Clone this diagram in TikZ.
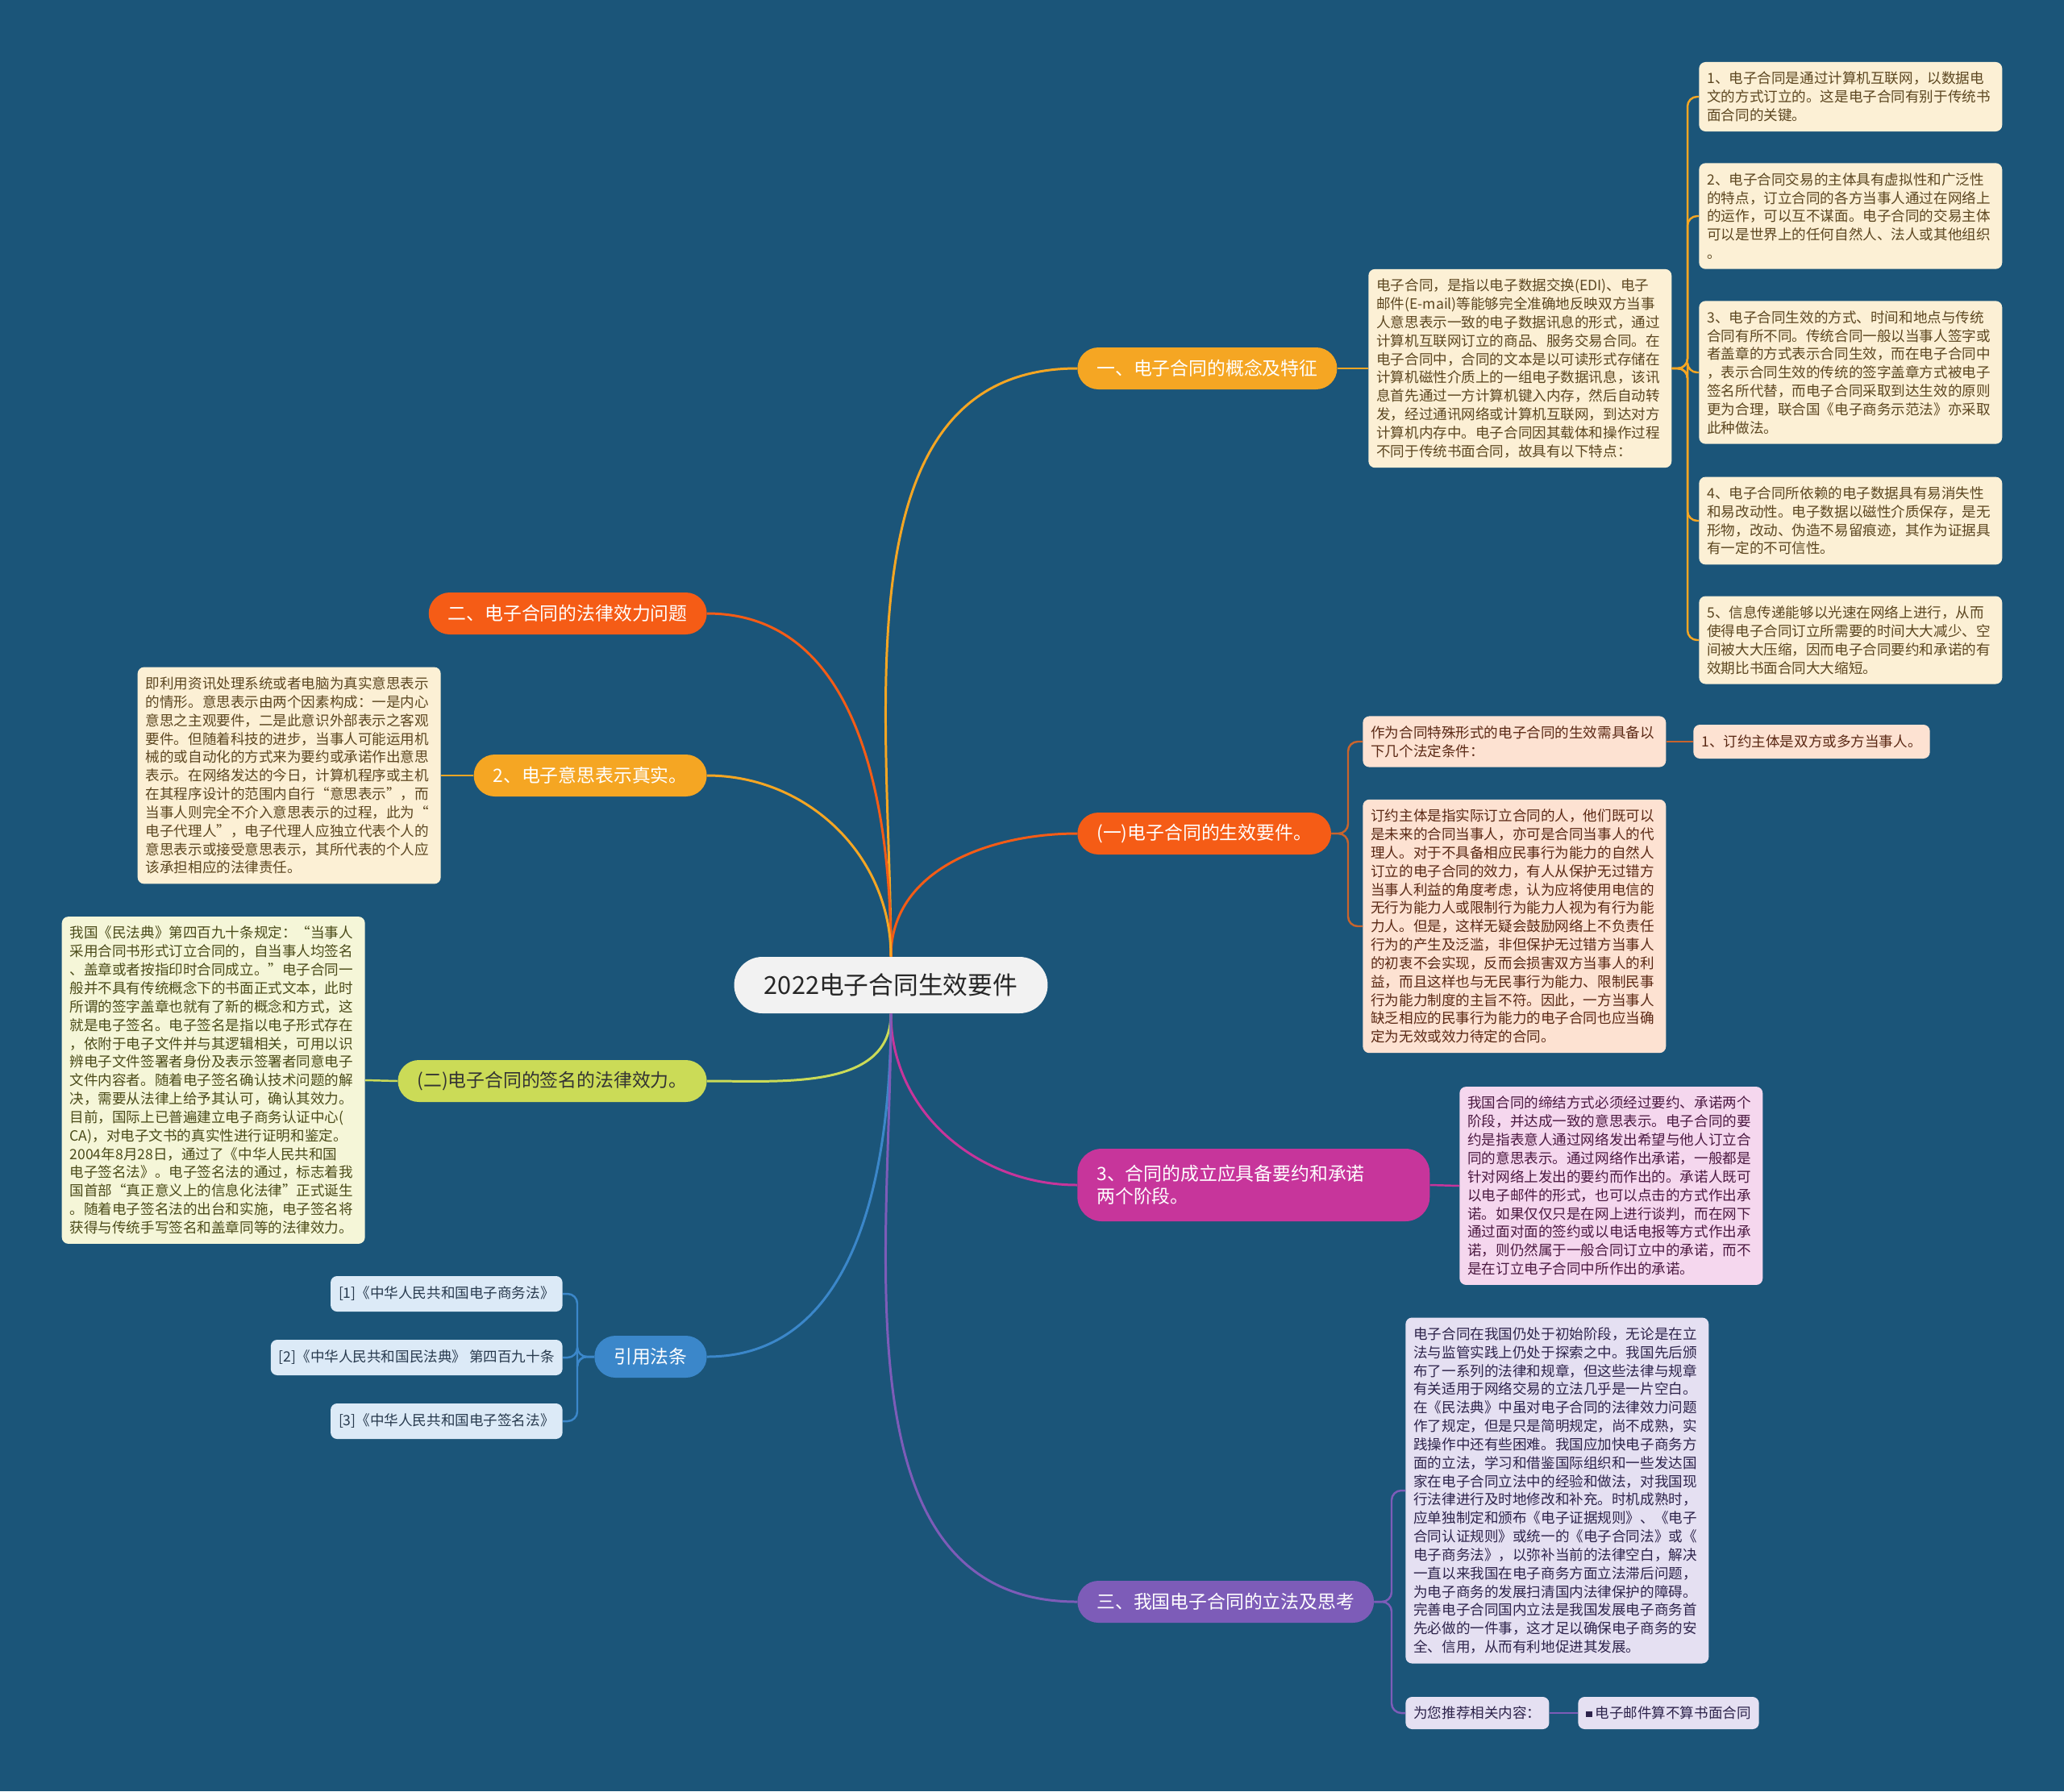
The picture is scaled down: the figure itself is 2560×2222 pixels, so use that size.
\documentclass[tikz,border=0pt]{standalone}
\usepackage{fontspec}
\usepackage{xcolor}
\usepackage{tikz}
\newfontfamily\cjk{Noto Sans CJK SC}
\definecolor{bg}{RGB}{27,85,121}
\definecolor{rootfill}{RGB}{242,242,242}
\definecolor{gold}{RGB}{245,166,35}
\definecolor{redorange}{RGB}{245,92,22}
\definecolor{rust}{RGB}{200,100,45}
\definecolor{rose}{RGB}{199,53,155}
\definecolor{lilac}{RGB}{125,92,184}
\definecolor{leaf}{RGB}{203,219,87}
\definecolor{sky}{RGB}{59,135,202}
\definecolor{cream}{RGB}{252,240,213}
\definecolor{creamtext}{RGB}{92,70,32}
\definecolor{peach}{RGB}{253,226,210}
\definecolor{peachtext}{RGB}{90,40,20}
\definecolor{pink}{RGB}{245,215,238}
\definecolor{pinktext}{RGB}{75,25,65}
\definecolor{lavender}{RGB}{229,224,242}
\definecolor{lavtext}{RGB}{45,35,75}
\definecolor{pale}{RGB}{245,246,216}
\definecolor{paletext}{RGB}{75,75,25}
\definecolor{iceblue}{RGB}{220,234,247}
\definecolor{icetext}{RGB}{40,58,78}

\begin{document}
\begin{tikzpicture}[x=0.02cm, y=-0.02cm,
  every node/.style={rounded corners=0.16cm, inner sep=0pt},
  topic/.style={rounded corners=0.52cm, minimum height=1.04cm, inner xsep=0.48cm, text=white, font=\cjk\fontsize{13}{16}\selectfont},
  note/.style={align=left, text width=7.12cm, inner xsep=0.2cm, inner ysep=0.24cm, font=\cjk\fontsize{10}{13}\selectfont},
  tag/.style={inner xsep=0.2cm, minimum height=0.84cm, font=\cjk\fontsize{10}{13}\selectfont},
  link/.style={line width=1.7pt},
  twig/.style={line width=1.4pt, rounded corners=0.24cm}]

  \fill[bg] (0,0) rectangle (2560,2222);

  \node[fill=rootfill, rounded corners=0.7cm, minimum width=7.78cm, minimum height=1.4cm,
    text=black!85, font=\cjk\fontsize{17.5}{20}\selectfont] (root) at (1105,1222) {2022电子合同生效要件};

  \node[topic, fill=gold, anchor=west] (concept) at (1336,457) {一、电子合同的概念及特征};
  \node[topic, fill=redorange, anchor=west] (validity) at (1336,1034) {(一)电子合同的生效要件。};
  \node[topic, fill=rose, anchor=west, align=left, text width=7.78cm, rounded corners=0.6cm, minimum height=1.8cm]
    (formation) at (1336,1470) {3、合同的成立应具备要约和承诺\\两个阶段。};
  \node[topic, fill=lilac, anchor=west] (legislation) at (1336,1987) {三、我国电子合同的立法及思考};
  \node[topic, fill=redorange, anchor=east] (effect) at (877,761) {二、电子合同的法律效力问题};
  \node[topic, fill=gold, anchor=east] (intent) at (877,962) {2、电子意思表示真实。};
  \node[topic, fill=leaf, anchor=east, text=black!80] (signature) at (877,1341) {(二)电子合同的签名的法律效力。};
  \node[topic, fill=sky, anchor=east] (laws) at (877,1683) {引用法条};

  \node[note, fill=cream, text=creamtext, anchor=west] (conceptnote) at (1697,457) {电子合同，是指以电子数据交换(EDI)、电子\\邮件(E-mail)等能够完全准确地反映双方当事\\人意思表示一致的电子数据讯息的形式，通过\\计算机互联网订立的商品、服务交易合同。在\\电子合同中，合同的文本是以可读形式存储在\\计算机磁性介质上的一组电子数据讯息，该讯\\息首先通过一方计算机键入内存，然后自动转\\发，经过通讯网络或计算机互联网，到达对方\\计算机内存中。电子合同因其载体和操作过程\\不同于传统书面合同，故具有以下特点：};
  \node[note, fill=cream, text=creamtext, anchor=west] (feat1) at (2107,120) {1、电子合同是通过计算机互联网，以数据电\\文的方式订立的。这是电子合同有别于传统书\\面合同的关键。};
  \node[note, fill=cream, text=creamtext, anchor=west] (feat2) at (2107,268) {2、电子合同交易的主体具有虚拟性和广泛性\\的特点，订立合同的各方当事人通过在网络上\\的运作，可以互不谋面。电子合同的交易主体\\可以是世界上的任何自然人、法人或其他组织\\。};
  \node[note, fill=cream, text=creamtext, anchor=west] (feat3) at (2107,462) {3、电子合同生效的方式、时间和地点与传统\\合同有所不同。传统合同一般以当事人签字或\\者盖章的方式表示合同生效，而在电子合同中\\，表示合同生效的传统的签字盖章方式被电子\\签名所代替，而电子合同采取到达生效的原则\\更为合理，联合国《电子商务示范法》亦采取\\此种做法。};
  \node[note, fill=cream, text=creamtext, anchor=west] (feat4) at (2107,646) {4、电子合同所依赖的电子数据具有易消失性\\和易改动性。电子数据以磁性介质保存，是无\\形物，改动、伪造不易留痕迹，其作为证据具\\有一定的不可信性。};
  \node[note, fill=cream, text=creamtext, anchor=west] (feat5) at (2107,794) {5、信息传递能够以光速在网络上进行，从而\\使得电子合同订立所需要的时间大大减少、空\\间被大大压缩，因而电子合同要约和承诺的有\\效期比书面合同大大缩短。};

  \node[note, fill=peach, text=peachtext, anchor=west] (cond) at (1690,920) {作为合同特殊形式的电子合同的生效需具备以\\下几个法定条件：};
  \node[tag, fill=peach, text=peachtext, anchor=west] (subject) at (2100,920) {1、订约主体是双方或多方当事人。};
  \node[note, fill=peach, text=peachtext, anchor=west] (condnote) at (1690,1149) {订约主体是指实际订立合同的人，他们既可以\\是未来的合同当事人，亦可是合同当事人的代\\理人。对于不具备相应民事行为能力的自然人\\订立的电子合同的效力，有人从保护无过错方\\当事人利益的角度考虑，认为应将使用电信的\\无行为能力人或限制行为能力人视为有行为能\\力人。但是，这样无疑会鼓励网络上不负责任\\行为的产生及泛滥，非但保护无过错方当事人\\的初衷不会实现，反而会损害双方当事人的利\\益，而且这样也与无民事行为能力、限制民事\\行为能力制度的主旨不符。因此，一方当事人\\缺乏相应的民事行为能力的电子合同也应当确\\定为无效或效力待定的合同。};

  \node[note, fill=pink, text=pinktext, anchor=west] (formnote) at (1810,1471) {我国合同的缔结方式必须经过要约、承诺两个\\阶段，并达成一致的意思表示。电子合同的要\\约是指表意人通过网络发出希望与他人订立合\\同的意思表示。通过网络作出承诺，一般都是\\针对网络上发出的要约而作出的。承诺人既可\\以电子邮件的形式，也可以点击的方式作出承\\诺。如果仅仅只是在网上进行谈判，而在网下\\通过面对面的签约或以电话电报等方式作出承\\诺，则仍然属于一般合同订立中的承诺，而不\\是在订立电子合同中所作出的承诺。};

  \node[note, fill=lavender, text=lavtext, anchor=west] (legnote) at (1743,1849) {电子合同在我国仍处于初始阶段，无论是在立\\法与监管实践上仍处于探索之中。我国先后颁\\布了一系列的法律和规章，但这些法律与规章\\有关适用于网络交易的立法几乎是一片空白。\\在《民法典》中虽对电子合同的法律效力问题\\作了规定，但是只是简明规定，尚不成熟，实\\践操作中还有些困难。我国应加快电子商务方\\面的立法，学习和借鉴国际组织和一些发达国\\家在电子合同立法中的经验和做法，对我国现\\行法律进行及时地修改和补充。时机成熟时，\\应单独制定和颁布《电子证据规则》、《电子\\合同认证规则》或统一的《电子合同法》或《\\电子商务法》，以弥补当前的法律空白，解决\\一直以来我国在电子商务方面立法滞后问题，\\为电子商务的发展扫清国内法律保护的障碍。\\完善电子合同国内立法是我国发展电子商务首\\先必做的一件事，这才足以确保电子商务的安\\全、信用，从而有利地促进其发展。};
  \node[tag, fill=lavender, text=lavtext, anchor=west, minimum height=0.8cm] (rec) at (1743,2125) {为您推荐相关内容：};
  \node[tag, fill=lavender, text=lavtext, anchor=west, minimum height=0.8cm] (recitem) at (1957,2125) {\rule[0.2ex]{0.75ex}{0.75ex}\ 电子邮件算不算书面合同};

  \node[note, fill=cream, text=creamtext, anchor=east] (intentnote) at (547,962) {即利用资讯处理系统或者电脑为真实意思表示\\的情形。意思表示由两个因素构成：一是内心\\意思之主观要件，二是此意识外部表示之客观\\要件。但随着科技的进步，当事人可能运用机\\械的或自动化的方式来为要约或承诺作出意思\\表示。在网络发达的今日，计算机程序或主机\\在其程序设计的范围内自行“意思表示”，而\\当事人则完全不介入意思表示的过程，此为“\\电子代理人”，电子代理人应独立代表个人的\\意思表示或接受意思表示，其所代表的个人应\\该承担相应的法律责任。};
  \node[note, fill=pale, text=paletext, anchor=east] (signnote) at (453,1340) {我国《民法典》第四百九十条规定：“当事人\\采用合同书形式订立合同的，自当事人均签名\\、盖章或者按指印时合同成立。”电子合同一\\般并不具有传统概念下的书面正式文本，此时\\所谓的签字盖章也就有了新的概念和方式，这\\就是电子签名。电子签名是指以电子形式存在\\，依附于电子文件并与其逻辑相关，可用以识\\辨电子文件签署者身份及表示签署者同意电子\\文件内容者。随着电子签名确认技术问题的解\\决，需要从法律上给予其认可，确认其效力。\\目前，国际上已普遍建立电子商务认证中心(\\CA)，对电子文书的真实性进行证明和鉴定。\\2004年8月28日，通过了《中华人民共和国\\电子签名法》。电子签名法的通过，标志着我\\国首部“真正意义上的信息化法律”正式诞生\\。随着电子签名法的出台和实施，电子签名将\\获得与传统手写签名和盖章同等的法律效力。};

  \node[tag, fill=iceblue, text=icetext, anchor=east, minimum height=0.88cm] (law1) at (698,1605) {[1]《中华人民共和国电子商务法》};
  \node[tag, fill=iceblue, text=icetext, anchor=east, minimum height=0.88cm] (law2) at (698,1684) {[2]《中华人民共和国民法典》 第四百九十条};
  \node[tag, fill=iceblue, text=icetext, anchor=east, minimum height=0.88cm] (law3) at (698,1763) {[3]《中华人民共和国电子签名法》};

  \coordinate (cj) at (2093,457);
  \coordinate (vj) at (1672,1034);
  \coordinate (lj) at (1726,1987);
  \coordinate (fj) at (716,1683);

  \draw[link, gold] (root.north) to[out=90, in=180] (concept.west);
  \draw[link, redorange] (root.north) to[out=90, in=180] (validity.west);
  \draw[link, redorange] (root.north) to[out=90, in=0] (effect.east);
  \draw[link, gold] (root.north) to[out=90, in=0] (intent.east);
  \draw[link, leaf] (root.south) to[out=-90, in=0] (signature.east);
  \draw[link, sky] (root.south) to[out=-90, in=0] (laws.east);
  \draw[link, rose] (root.south) to[out=-90, in=180] (formation.west);
  \draw[link, lilac] (root.south) to[out=-90, in=180] (legislation.west);

  \draw[twig, gold] (concept.east) -- (conceptnote.west);
  \foreach \f in {feat1,feat2,feat3,feat4,feat5}
    \draw[twig, gold] (conceptnote.east) -- (cj) |- (\f.west);
  \foreach \n in {cond,condnote}
    \draw[twig, rust] (validity.east) -- (vj) |- (\n.west);
  \draw[twig, rust] (cond.east) -- (subject.west);
  \draw[twig, rose] (formation.east) -- (formnote.west);
  \foreach \n in {legnote,rec}
    \draw[twig, lilac] (legislation.east) -- (lj) |- (\n.west);
  \draw[twig, lilac] (rec.east) -- (recitem.west);
  \draw[twig, gold] (intent.west) -- (intentnote.east);
  \draw[twig, leaf] (signature.west) -- (signnote.east);
  \foreach \n in {law1,law2,law3}
    \draw[twig, sky] (laws.west) -- (fj) |- (\n.east);
\end{tikzpicture}
\end{document}
